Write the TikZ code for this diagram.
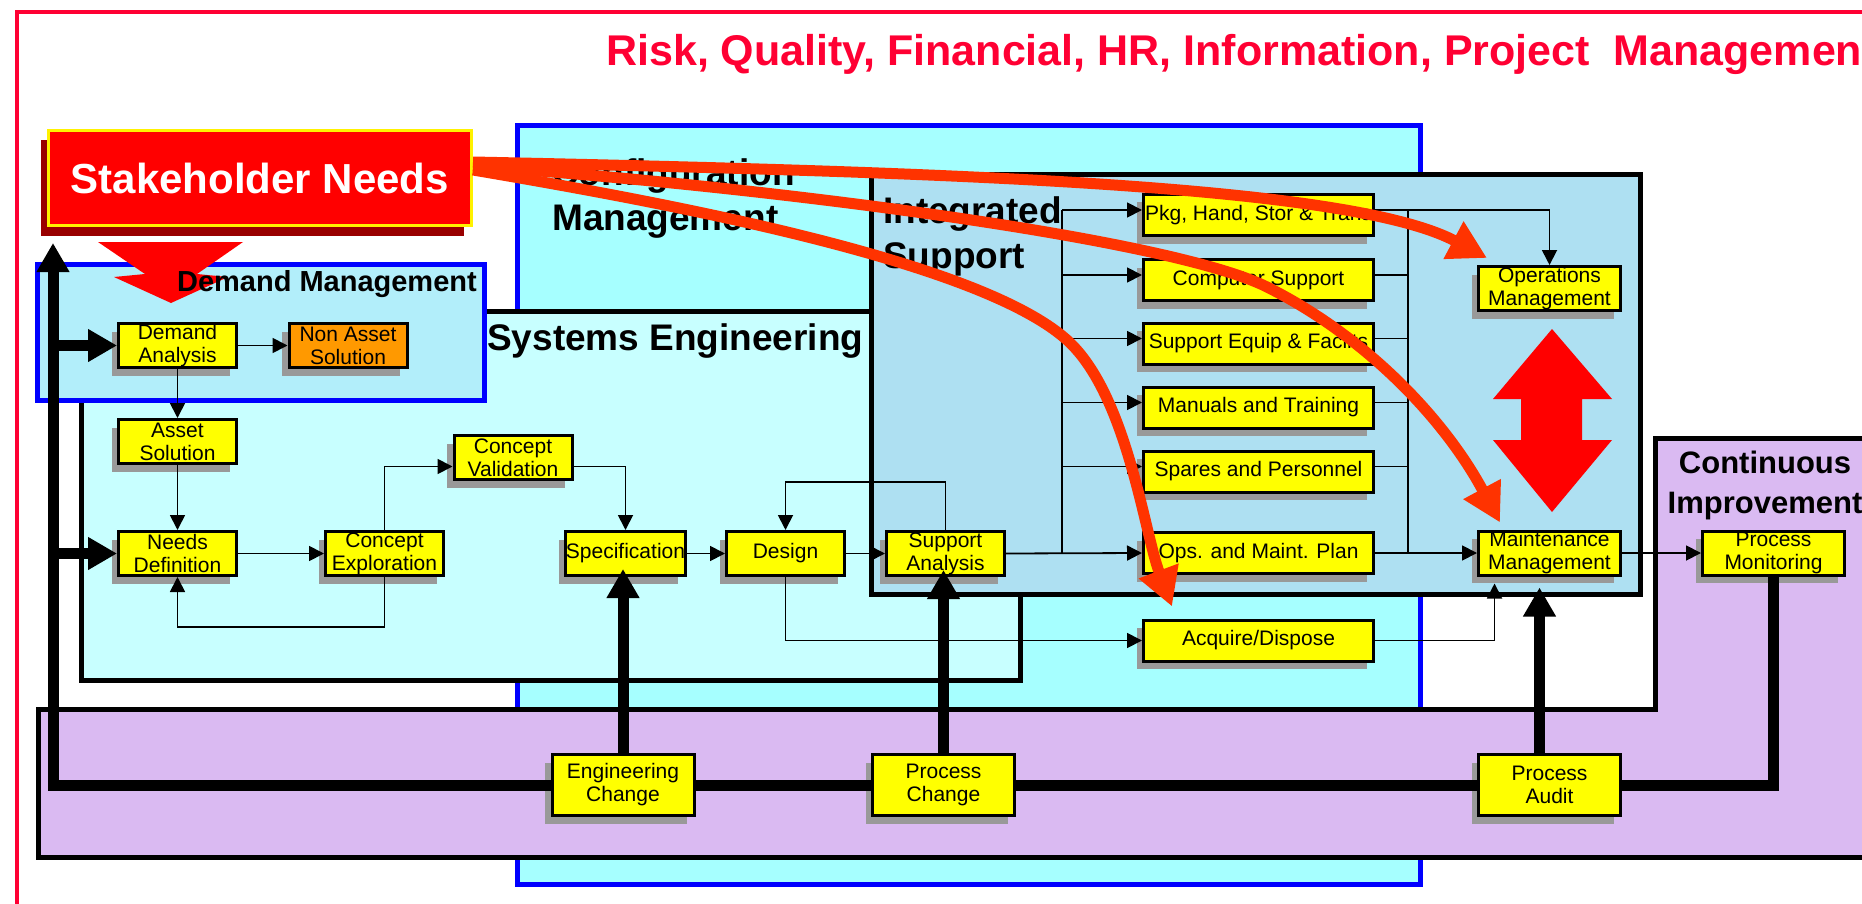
\documentclass[tikz,border=0pt]{standalone}
\usepackage{fontspec}
\setmainfont{Liberation Sans}
\usetikzlibrary{arrows.meta,shadows}

\definecolor{stageyellow}{RGB}{255,255,0}
\definecolor{shadowgray}{RGB}{153,153,153}
\definecolor{nonasset}{RGB}{255,153,0}
\definecolor{mgmtred}{RGB}{255,0,51}
\definecolor{needshade}{RGB}{153,0,0}
\definecolor{flowred}{RGB}{255,51,0}
\definecolor{cmcyan}{RGB}{166,255,255}
\definecolor{secyan}{RGB}{200,255,255}
\definecolor{isblue}{RGB}{174,224,242}
\definecolor{dmblue}{RGB}{178,238,250}
\definecolor{cililac}{RGB}{218,186,242}

\newcommand\headfont{\fontsize{43}{50}\selectfont\bfseries}
\newcommand\needfont{\fontsize{42}{50}\selectfont\bfseries}
\newcommand\areafont{\fontsize{37}{45}\selectfont\bfseries}
\newcommand\dmfont{\fontsize{29}{35}\selectfont\bfseries}
\newcommand\cifont{\fontsize{31}{40}\selectfont\bfseries}
\newcommand\stagefont{\fontsize{21}{23}\selectfont}

\tikzset{
  stage/.style={draw, line width=3pt, fill=stageyellow, font=\stagefont,
    align=center, inner sep=0pt, minimum width=118pt, minimum height=44pt,
    drop shadow={shadow xshift=-7pt, shadow yshift=-8pt, fill=shadowgray, opacity=1}},
  wide stage/.style={stage, minimum width=230pt, minimum height=41pt},
  mgmt stage/.style={stage, minimum width=142pt, minimum height=44pt},
  change stage/.style={stage, minimum width=142pt, minimum height=61pt},
  area/.style={line width=5pt},
  area label/.style={font=\areafont, align=left, inner sep=0pt},
  link/.style={line width=1.8pt},
  flow/.style={link, -{Triangle[length=15pt,width=15pt]}},
  backbone/.style={line width=11pt},
  backbone arrow/.style={backbone, -{Triangle[length=29pt,width=31pt]}},
  need/.style={draw=flowred, line width=11pt, -{Triangle[length=38pt,width=40pt]}},
}

\begin{document}
\begin{tikzpicture}[x=1pt, y=-1pt]
    % frame
    \useasboundingbox (0,0) rectangle (1862,904);
    \clip (0,0) rectangle (1862,904);
    \draw [mgmtred, line width=4pt] (17,12) rectangle (1900,950);

    % heading
    \node [anchor=base west, text=mgmtred, font=\headfont, inner sep=0pt] (heading) at (606,66)
      {Risk, Quality, Financial, HR, Information, Project\ \ Management};

    % configuration management (base is the last line)
    \draw [area, draw=blue, fill=cmcyan] (517.5,125.5) rectangle (1420.5,884.5);
    \node [area label, anchor=base west] (cmlabel) at (552,230) {Configuration\\Management};

    % systems engineering
    \draw [area, fill=secyan] (81.5,311.5) rectangle (1020.5,680.5);
    \node [area label, anchor=base west] (selabel) at (487,350) {Systems Engineering};

    % demand management
    \draw [area, draw=blue, fill=dmblue] (37.5,264.5) rectangle (484.5,400.5);
    \fill [red] (98,242) -- (243,242) -- (197,274) -- (228,277) -- (171,303)
      -- (114,277) -- (145,274) -- cycle;
    \node [area label, font=\dmfont, anchor=base east] (dmlabel) at (477,291) {Demand Management};

    % integrated support
    \draw [area, fill=isblue] (871.5,174.5) rectangle (1640.5,594.5);
    \node [area label, anchor=base west] (islabel) at (883,268) {Integrated\\Support};
    \fill [red] (1552,329) -- (1612,399) -- (1582,399) -- (1582,440) -- (1612,440)
      -- (1552,512) -- (1493,440) -- (1521,440) -- (1521,399) -- (1493,399) -- cycle;

    % continuous improvement
    \draw [area, fill=cililac] (38,709.5) -- (1655,709.5) -- (1655,438) -- (1880,438)
      -- (1880,857.5) -- (38,857.5) -- cycle;
    \node [area label, font=\cifont, align=center, anchor=base] (cilabel) at (1765,513)
      {Continuous\\Improvement};

    % stakeholder needs
    \node [draw=yellow, line width=3pt, fill=red, text=white, font=\needfont,
      minimum width=423pt, minimum height=95pt, inner sep=0pt,
      drop shadow={shadow xshift=-8pt, shadow yshift=-10pt, fill=needshade, opacity=1}]
      (sn) at (260,178) {Stakeholder Needs};

    % stages
    \node [stage] (da) at (177.5,345.5) {Demand\\Analysis};
    \node [stage, fill=nonasset] (nas) at (348,345.5) {Non Asset\\Solution};
    \node [stage] (as) at (177.5,441.5) {Asset\\Solution};
    \node [stage] (nd) at (177.5,553.5) {Needs\\Definition};
    \node [stage] (ce) at (384.5,553.5) {Concept\\Exploration};
    \node [stage] (cv) at (513,457.5) {Concept\\Validation};
    \node [stage] (spec) at (625.5,553.5) {Specification};
    \node [stage] (des) at (785.5,553.5) {Design};
    \node [stage] (sa) at (945.5,553.5) {Support\\Analysis};

    \node [wide stage] (pkg) at (1258.5,215) {Pkg, Hand, Stor \& Trans};
    \node [wide stage] (cs) at (1258.5,280) {Computer Support};
    \node [wide stage] (sef) at (1258.5,343.5) {Support Equip \& Facilts};
    \node [wide stage] (mt) at (1258.5,407.5) {Manuals and Training};
    \node [wide stage] (sp) at (1258.5,471.5) {Spares and Personnel};
    \node [wide stage] (omp) at (1258.5,553) {Ops. and Maint. Plan};
    \node [wide stage] (acq) at (1258.5,640.5) {Acquire/Dispose};

    \node [mgmt stage] (ops) at (1549.5,288.5) {Operations\\Management};
    \node [mgmt stage] (maint) at (1549.5,553) {Maintenance\\Management};
    \node [mgmt stage] (pm) at (1773.5,553) {Process\\Monitoring};

    \node [change stage] (ec) at (623,785) {Engineering\\Change};
    \node [change stage] (pc) at (943.5,785) {Process\\Change};
    \node [change stage] (pa) at (1549.5,785) {Process\\Audit};

    % feedback loop
    \coordinate (corner) at (53,785);
    \coordinate (bartop) at (53,243);
    \draw [backbone arrow] (ec.west) -- (corner) -- (bartop);
    \draw [backbone arrow] (corner |- da.west) -- (da.west);
    \draw [backbone arrow] (corner |- nd.west) -- (nd.west);
    \draw [backbone] (pc.west) -- (ec.east);
    \draw [backbone] (pa.west) -- (pc.east);
    \draw [backbone] (pm.south) |- (pa.east);
    \draw [backbone arrow, shorten >=-8pt] (ec.north) -- (ec.north |- spec.south);
    \draw [backbone arrow, shorten >=-7pt] (pc.north) -- (pc.north |- sa.south);
    \draw [backbone arrow] ([xshift=-10pt]pa.north) -- ([xshift=-10pt,yshift=-11pt]maint.south);

    % demand and systems engineering flow
    \draw [flow] (da) -- (nas);
    \draw [flow] (da) -- (as);
    \draw [flow] (as) -- (nd);
    \draw [flow] (nd) -- (ce);
    \draw [flow] (ce.south) -- ++(0,50) -| (nd.south);
    \draw [flow] (ce.north) |- ([yshift=-9pt]cv.west);
    \draw [flow] ([yshift=-9pt]cv.east) -| (spec.north);
    \draw [flow] (spec) -- (des);
    \draw [flow] (des) -- (sa);
    \draw [flow] (sa.north) -- ++(0,-48) -| (des.north);
    \draw [flow] (des.south) |- (acq.west);
    \draw [flow] (sa.east) -- (omp.west);

    % support elements
    \draw [link] ([xshift=-80pt,yshift=5pt]pkg.west) -- ([xshift=-80pt]omp.west);
    \draw [link] ([xshift=33pt,yshift=5pt]pkg.east) -- ([xshift=33pt]omp.east);
    \foreach \n in {pkg,cs,sef,mt,sp} {
      \draw [flow] ([xshift=-80pt,yshift=5pt]\n.west) -- ([yshift=5pt]\n.west);
    }
    \foreach \n in {cs,sef,mt,sp} {
      \draw [link] ([yshift=5pt]\n.east) -- +(33,0);
    }
    \draw [flow] ([yshift=5pt]pkg.east) -| (ops.north);
    \draw [flow] (omp.east) -- (maint.west);
    \draw [flow] (acq.east) -| ([xshift=-55pt,yshift=-7pt]maint.south);
    \draw [flow] (maint) -- (pm);

    % needs feeding the support side
    \draw [need] ([yshift=16pt]sn.east) .. controls (950,172) and (1350,185)
      .. ([xshift=10pt,yshift=7pt]ops.north west);
    \draw [need] ([yshift=12pt]sn.east) .. controls (750,185) and (1167,237) .. (1267,287)
      .. controls (1367,337) and (1445,420) .. ([xshift=23pt,yshift=7pt]maint.north west);
    \draw [need] ([yshift=8pt]sn.east) .. controls (680,205) and (980,262) .. (1067,340)
      .. controls (1127,394) and (1144,532) .. ([xshift=30pt,yshift=12pt]acq.north west);
\end{tikzpicture}
\end{document}
